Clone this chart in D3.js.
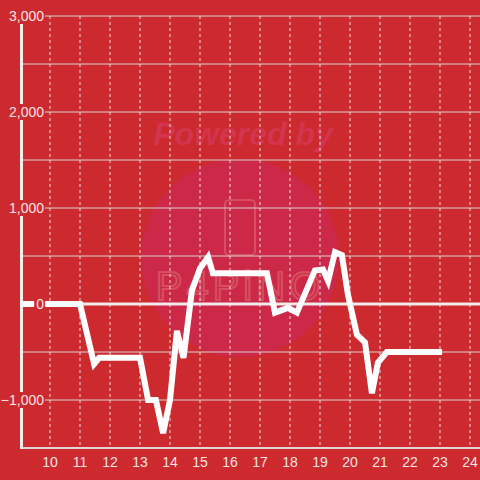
<!DOCTYPE html>
<html>
<head>
<meta charset="utf-8">
<script src="https://cdn.jsdelivr.net/npm/d3@7"></script>
<style>
  body { margin: 0; background: #cc2a2f; }
  svg { display: block; font-family: "Liberation Sans", Arial, sans-serif; }
</style>
</head>
<body>
<div id="chart"></div>
<script>
// hour of day and value
const hours = [9, 11.0, 11.47, 11.64, 13.0, 13.27, 13.53, 13.77, 14.0, 14.23, 14.45, 14.73, 15.0, 15.27, 15.43,
    17.23, 17.5, 17.93, 18.23, 18.83, 19.1, 19.27, 19.5, 19.73, 19.93, 20.23, 20.5, 20.73, 20.93, 21.23, 23.07];
const values = [0, 0, -625, -560, -560, -1000, -1000, -1345, -1000, -280, -560, 140, 370, 490, 320,
    320, -90, -40, -90, 350, 360, 240, 540, 510, 100, -320, -400, -930, -610, -500, -500];
const yTicks = [3000, 2000, 1000, 0, -1000];
const yGrid = [3000, 2500, 2000, 1500, 1000, 500, 0, -500, -1000, -1500];
const xTicks = [10, 11, 12, 13, 14, 15, 16, 17, 18, 19, 20, 21, 22, 23, 24];

const width = 480, height = 480;
const bg = "#cc2a2f";

const svg = d3.select("#chart").append("svg")
    .attr("width", width)
    .attr("height", height);

svg.append("rect").attr("width", width).attr("height", height).attr("fill", bg);

const x = d3.scaleLinear().domain([9, 24.333]).range([20, 480]);
const y = d3.scaleLinear().domain([-1500, 3000]).range([448, 16]);

// watermark
const wm = svg.append("g");
wm.append("circle").attr("cx", 240).attr("cy", 258).attr("r", 99).attr("fill", "#cc2848");
wm.append("text")
    .attr("x", 243).attr("y", 145)
    .attr("text-anchor", "middle")
    .attr("font-size", 32).attr("font-weight", "bold").attr("font-style", "italic")
    .attr("fill", "#d3344e")
    .text("Powered by");
wm.append("rect")
    .attr("x", 225).attr("y", 200).attr("width", 30).attr("height", 55).attr("rx", 4)
    .attr("fill", "none").attr("stroke", "#d65060").attr("stroke-width", 2);
wm.append("text")
    .attr("x", 240).attr("y", 300)
    .attr("text-anchor", "middle")
    .attr("font-size", 40).attr("letter-spacing", 4)
    .attr("fill", "none").attr("stroke", "#d65060").attr("stroke-width", 2)
    .text("P4PiNO");

// horizontal grid
svg.append("g").selectAll("line")
    .data(yGrid.filter(d => d !== 0 && d !== -1500))
    .join("line")
    .attr("x1", 20).attr("x2", width)
    .attr("y1", d => y(d)).attr("y2", d => y(d))
    .attr("stroke", "#d9d2d2").attr("stroke-width", 1);

// vertical dotted grid
svg.append("g").selectAll("line")
    .data(xTicks)
    .join("line")
    .attr("x1", d => x(d)).attr("x2", d => x(d))
    .attr("y1", y(3000)).attr("y2", y(-1500))
    .attr("stroke", "#e6dede").attr("stroke-width", 1)
    .attr("stroke-dasharray", "3,3");

// zero line
svg.append("line")
    .attr("x1", 20).attr("x2", width)
    .attr("y1", y(0)).attr("y2", y(0))
    .attr("stroke", "#f0eaea").attr("stroke-width", 3);

// x axis line
svg.append("line")
    .attr("x1", 20).attr("x2", width)
    .attr("y1", y(-1500)).attr("y2", y(-1500))
    .attr("stroke", "#e0d6d6").attr("stroke-width", 2);

// y axis line
svg.append("line")
    .attr("x1", 21.5).attr("x2", 21.5)
    .attr("y1", y(3000)).attr("y2", y(-1500) + 1)
    .attr("stroke", "#f2eeee").attr("stroke-width", 3);

// data line
const line = d3.line()
    .x((d, i) => x(hours[i]))
    .y(d => y(d));

svg.append("path")
    .datum(values)
    .attr("fill", "none")
    .attr("stroke", "#ffffff")
    .attr("stroke-width", 6)
    .attr("stroke-linejoin", "miter")
    .attr("d", line);

// y labels with background box
const fmt = d3.format(",");
const yl = svg.append("g").selectAll("g")
    .data(yTicks)
    .join("g")
    .attr("transform", d => `translate(44,${y(d)})`);
yl.append("rect")
    .attr("x", d => -(fmt(d).length * 7.8) - 2).attr("y", -8)
    .attr("width", d => fmt(d).length * 7.8 + 3).attr("height", 16)
    .attr("fill", bg);
yl.append("text")
    .attr("text-anchor", "end")
    .attr("dy", "0.35em")
    .attr("font-size", 14)
    .attr("fill", "#f6e4e4")
    .text(d => fmt(d));

// x labels
svg.append("g").selectAll("text")
    .data(xTicks)
    .join("text")
    .attr("x", d => x(d))
    .attr("y", 467)
    .attr("text-anchor", "middle")
    .attr("font-size", 14)
    .attr("fill", "#f6e4e4")
    .text(d => d);
</script>
</body>
</html>
